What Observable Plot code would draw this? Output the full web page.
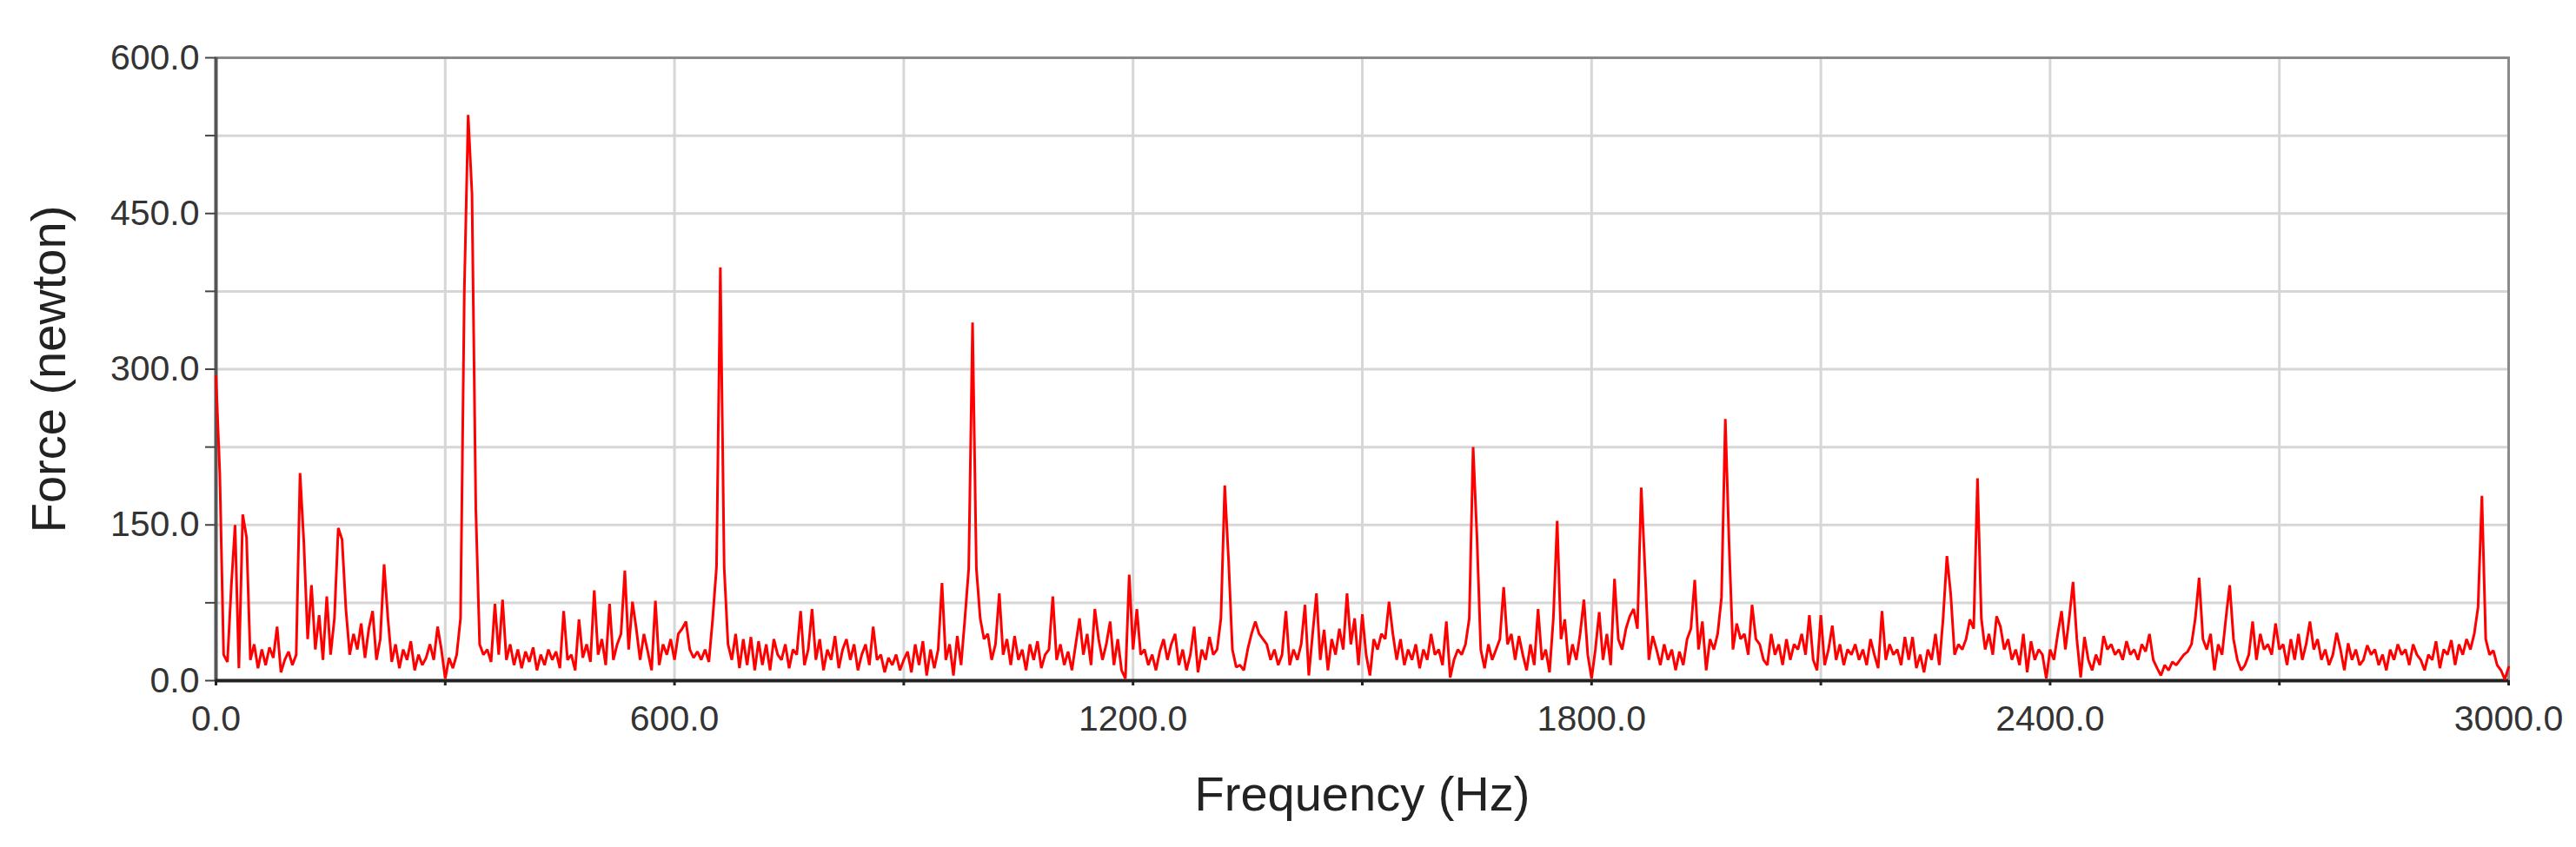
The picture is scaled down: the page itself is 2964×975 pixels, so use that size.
<!DOCTYPE html>
<html>
<head>
<meta charset="utf-8">
<script src="https://cdn.jsdelivr.net/npm/d3@7"></script>
<script src="https://cdn.jsdelivr.net/npm/@observablehq/plot@0.6"></script>
<style>
  html, body { margin: 0; padding: 0; background: #ffffff; }
  #chart svg { display: block; }
</style>
</head>
<body>
<div id="chart"></div>
<script>
const binHz = 5;
const forceN = [
  293,200,25,18,90,150,12,160,138,20, 35,12,30,15,32,22,52,8,20,28,
  15,25,200,133,40,92,30,63,20,81, 25,60,147,136,69,25,45,30,55,22,
  50,67,20,40,112,60,18,35,12,30, 20,38,10,25,15,22,35,20,52,30,
  2,22,12,25,60,376,545,469,166,35, 25,30,18,74,25,78,20,35,15,30,
  12,28,18,32,10,25,15,30,20,28, 12,67,20,25,10,59,22,35,18,87,
  25,40,15,74,20,35,45,106,30,76, 50,20,45,28,10,77,15,35,25,40,
  20,45,50,57,30,22,28,20,30,18, 60,110,398,109,35,20,45,12,40,15,
  42,10,38,15,35,10,40,25,20,35, 12,30,25,67,15,30,69,20,40,10,
  30,20,43,12,30,40,20,35,10,25, 35,15,52,20,25,8,22,15,25,10,
  20,28,8,35,15,38,5,30,12,30, 94,20,35,5,43,15,60,108,345,108,
  60,40,45,20,35,84,25,40,15,43, 20,30,10,35,20,38,12,25,30,81,
  20,35,15,28,10,35,60,25,45,15, 69,40,20,35,57,15,40,10,2,102,
  30,69,25,30,15,25,10,28,40,20, 35,45,15,30,10,25,52,8,30,20,
  42,25,30,60,188,116,30,13,15,10, 30,45,57,45,40,35,20,30,15,25,
  67,15,30,20,35,73,5,45,84,20, 49,10,40,25,50,30,84,35,60,15,
  64,25,5,40,30,45,40,76,45,20, 40,15,30,20,35,12,30,20,45,25,
  30,15,57,3,20,30,25,35,60,225, 139,30,12,35,20,30,40,90,35,45,
  20,43,25,10,35,15,69,20,30,8, 60,154,40,59,15,35,20,45,78,25,
  2,30,66,20,45,15,98,40,30,50, 62,69,50,186,106,20,43,30,15,35,
  20,30,10,28,15,40,50,97,30,57, 10,40,30,45,80,252,130,30,55,40,
  45,25,73,40,35,20,15,45,25,35, 15,40,20,35,30,45,25,63,20,10,
  63,15,30,53,20,35,15,30,25,35, 20,30,15,40,25,12,67,20,35,25,
  30,15,42,20,42,12,25,8,30,20, 45,15,60,120,83,25,35,30,40,59,
  50,195,60,30,45,25,62,52,30,40, 20,30,15,45,8,38,20,30,25,2,
  30,20,45,67,30,60,95,40,3,42, 20,10,25,15,43,30,35,25,30,20,
  38,25,30,20,35,28,45,20,12,5, 15,10,18,15,20,25,28,35,60,99,
  40,30,45,10,35,25,60,92,40,20, 10,15,25,57,20,45,30,35,25,55,
  30,35,15,40,20,45,20,35,57,30, 40,20,30,15,25,46,30,10,36,20,
  30,15,20,34,25,30,15,25,10,30, 20,35,25,30,15,35,25,20,10,25,
  20,38,12,30,25,39,15,35,25,40, 30,45,71,178,40,25,29,15,10,1,
  13
];
const spectrum = forceN.map((v, i) => ({hz: i * binHz, force: v}));

const xDomain = [0, 3000];
const yDomain = [0, 600];
const xGridTicks = [0, 300, 600, 900, 1200, 1500, 1800, 2100, 2400, 2700, 3000];
const xLabelTicks = [0, 600, 1200, 1800, 2400, 3000];
const yGridTicks = [0, 75, 150, 225, 300, 375, 450, 525, 600];
const yLabelTicks = [0, 150, 300, 450, 600];
const xTitle = "Frequency (Hz)";
const yTitle = "Force (newton)";

const fmt = d => d.toFixed(1);

const chart = Plot.plot({
  width: 2964,
  height: 975,
  marginLeft: 248,
  marginRight: 78,
  marginTop: 66,
  marginBottom: 192,
  style: {fontFamily: "'Liberation Sans', Arial, Helvetica, sans-serif", background: "#ffffff", color: "#333"},
  x: {domain: xDomain},
  y: {domain: yDomain},
  marks: [
    Plot.gridY(yGridTicks, {stroke: "#d6d6d6", strokeOpacity: 1, strokeWidth: 3}),
    Plot.gridX(xGridTicks, {stroke: "#d6d6d6", strokeOpacity: 1, strokeWidth: 3}),
    Plot.frame({stroke: "#8a8a8a", strokeWidth: 3}),
    Plot.ruleX([0], {stroke: "#555", strokeWidth: 4}),
    Plot.ruleY([0], {stroke: "#222", strokeWidth: 4}),
    Plot.line(spectrum, {x: "hz", y: "force", stroke: "#ff0000", strokeWidth: 3, strokeLinejoin: "miter"}),
    Plot.axisY(yGridTicks, {tickSize: 12, tickPadding: 7, stroke: "#444", strokeWidth: 2,
      tickFormat: d => yLabelTicks.includes(d) ? fmt(d) : "", fontSize: 41, fill: "#333", label: null}),
    Plot.axisX(xGridTicks, {tickSize: 6, tickPadding: 22, stroke: "#222", strokeWidth: 3,
      tickFormat: d => xLabelTicks.includes(d) ? fmt(d) : "", fontSize: 41, fill: "#333", label: null}),
    Plot.text([yTitle], {frameAnchor: "left", textAnchor: "middle", lineAnchor: "middle", rotate: -90, dx: -191, fontSize: 56, fill: "#222"}),
    Plot.text([xTitle], {frameAnchor: "bottom", textAnchor: "middle", lineAnchor: "middle", dy: 132, fontSize: 56, fill: "#222"})
  ]
});
document.getElementById("chart").appendChild(chart);
</script>
</body>
</html>
